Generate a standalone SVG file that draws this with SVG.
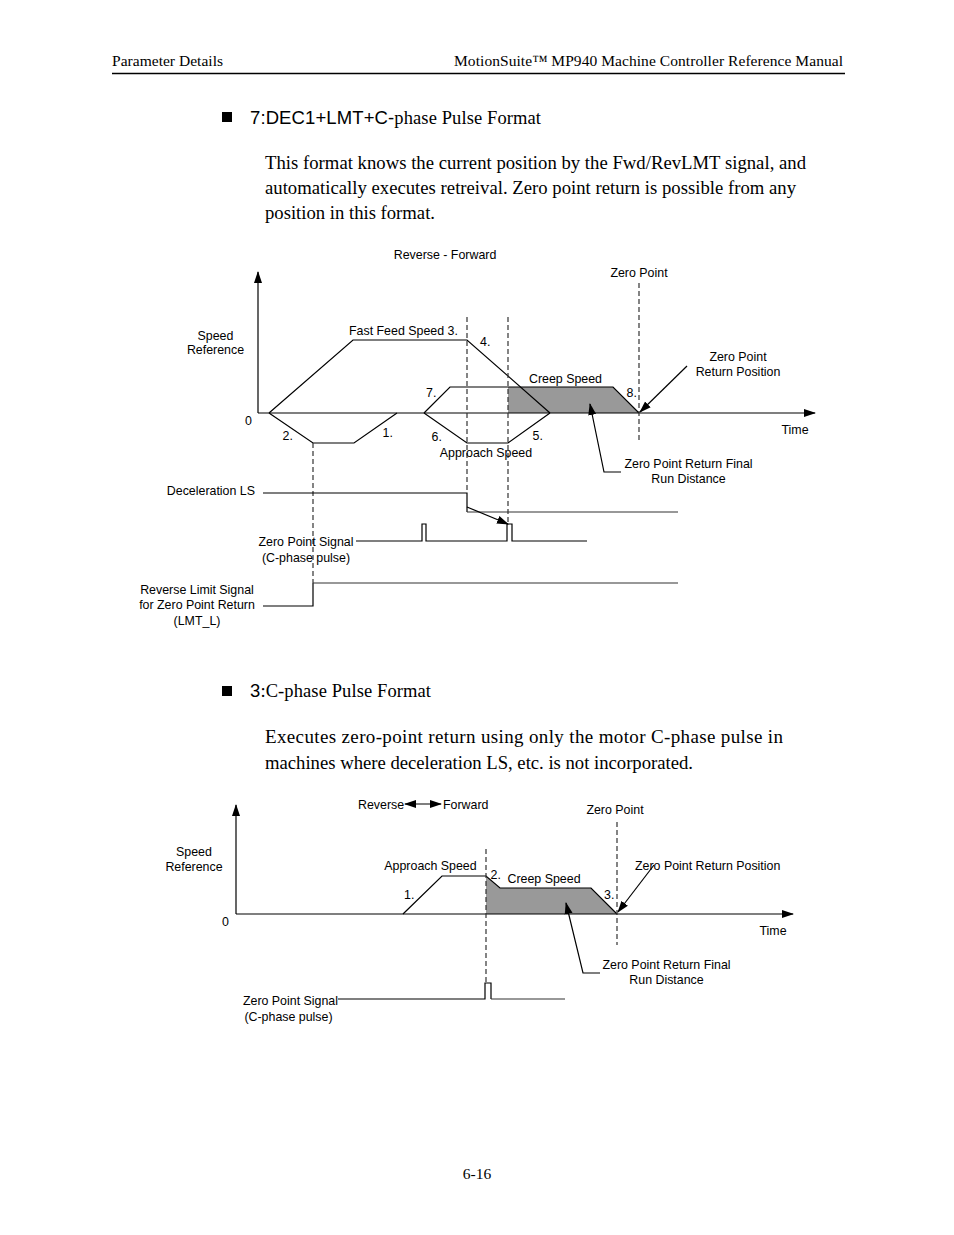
<svg xmlns="http://www.w3.org/2000/svg" width="954" height="1235" viewBox="0 0 954 1235">
<style>
.serif{font-family:"Liberation Serif","Times New Roman",serif;fill:#000}
.sans{font-family:"Liberation Sans",Arial,sans-serif;fill:#000}
.lbl{font-family:"Liberation Sans",Arial,sans-serif;font-size:12.4px;fill:#000}
.mid{text-anchor:middle}
.end{text-anchor:end}
.ln{fill:none;stroke:#000;stroke-width:1.2}
.gl{fill:none;stroke:#333;stroke-width:1.2}
.dash{fill:none;stroke:#333;stroke-width:1.2;stroke-dasharray:5,3}
.fill{fill:#999;stroke:none}
.arr{fill:none;stroke:#000;stroke-width:1.2;marker-end:url(#ah)}
</style>
<defs>
<marker id="ah" markerUnits="userSpaceOnUse" markerWidth="12" markerHeight="10" refX="11" refY="4" orient="auto-start-reverse" viewBox="0 0 12 8">
<path d="M0,0 L12,4 L0,8 z" fill="#000"/>
</marker>
</defs>
<rect width="954" height="1235" fill="#fff"/>

<g id="header">
<text class="serif" x="112" y="66" font-size="15.5" textLength="111">Parameter Details</text>
<text class="serif" x="454" y="66" font-size="15.5" textLength="389">MotionSuite™ MP940 Machine Controller Reference Manual</text>
<line x1="112" y1="73.5" x2="845" y2="73.5" stroke="#000" stroke-width="1.3"/>
</g>

<g id="section1">
<rect x="222" y="112" width="10" height="10" fill="#000"/>
<text x="250" y="124" font-size="18.5" textLength="291"><tspan class="sans">7:DEC1+LMT+C-</tspan><tspan class="serif">phase Pulse Format</tspan></text>
<text class="serif" x="265" y="169" font-size="18.7" textLength="541">This format knows the current position by the Fwd/RevLMT signal, and</text>
<text class="serif" x="265" y="194" font-size="18.7" textLength="531">automatically executes retreival. Zero point return is possible from any</text>
<text class="serif" x="265" y="219" font-size="18.7" textLength="170">position in this format.</text>
</g>

<g id="chart1">
<polygon class="fill" points="508,387 613,387 639,413 508,413"/>
<line class="arr" x1="258" y1="413" x2="258" y2="272"/>
<line class="arr" x1="258" y1="413" x2="815" y2="413"/>
<path class="ln" d="M269,413 L353,340 L467,340 L550,413"/>
<path class="ln" d="M269,413 L313,443 L354,443 L397,413"/>
<path class="ln" d="M424,413 L450,387 L613,387 L639,413"/>
<path class="ln" d="M424,413 L467,443 L508,443 L550,413"/>
<line class="dash" x1="313" y1="443" x2="313" y2="583"/>
<line class="dash" x1="467" y1="317" x2="467" y2="493"/>
<line class="dash" x1="508" y1="317" x2="508" y2="524"/>
<line class="dash" x1="639" y1="283" x2="639" y2="442"/>
<text class="lbl mid" x="445" y="258.5">Reverse - Forward</text>
<text class="lbl mid" x="639" y="277">Zero Point</text>
<text class="lbl mid" x="215.5" y="339.5">Speed</text>
<text class="lbl mid" x="215.5" y="354">Reference</text>
<text class="lbl" x="349" y="335">Fast Feed Speed 3.</text>
<text class="lbl" x="480" y="346">4.</text>
<text class="lbl" x="426" y="397">7.</text>
<text class="lbl mid" x="565.5" y="382.5">Creep Speed</text>
<text class="lbl" x="626.5" y="397">8.</text>
<text class="lbl mid" x="738" y="361">Zero Point</text>
<text class="lbl mid" x="738" y="375.5">Return Position</text>
<text class="lbl" x="245" y="425">0</text>
<text class="lbl" x="781.5" y="433.5">Time</text>
<text class="lbl" x="282.5" y="439.5">2.</text>
<text class="lbl" x="382.5" y="437">1.</text>
<text class="lbl" x="431.5" y="441">6.</text>
<text class="lbl" x="532.5" y="439.5">5.</text>
<text class="lbl mid" x="486" y="456.5">Approach Speed</text>
<text class="lbl mid" x="688.5" y="467.5">Zero Point Return Final</text>
<text class="lbl mid" x="688.5" y="482.5">Run Distance</text>
</g>

<g id="signals1">
<path class="ln" d="M263,493 H467 V512"/>
<path class="gl" d="M467,512 H678"/>
<path class="ln" d="M356,541 H422 V524 H426 V541 H507 V524 H512 V541 H587"/>
<path class="ln" d="M263,606 H313 V583"/>
<path class="gl" d="M313,583 H678"/>
<text class="lbl end" x="255" y="495">Deceleration LS</text>
<text class="lbl mid" x="306" y="546">Zero Point Signal</text>
<text class="lbl mid" x="306" y="562">(C-phase pulse)</text>
<text class="lbl mid" x="197" y="593.5">Reverse Limit Signal</text>
<text class="lbl mid" x="197" y="609">for Zero Point Return</text>
<text class="lbl mid" x="197" y="625">(LMT_L)</text>
</g>

<g id="section2">
<rect x="222" y="686" width="10" height="10" fill="#000"/>
<text x="250" y="697" font-size="18.5" textLength="181"><tspan class="sans">3</tspan><tspan class="serif">:C-phase Pulse Format</tspan></text>
<text class="serif" x="265" y="743" font-size="19" textLength="518">Executes zero-point return using only the motor C-phase pulse in</text>
<text class="serif" x="265" y="769" font-size="18.7" textLength="428">machines where deceleration LS, etc. is not incorporated.</text>
</g>

<g id="chart2">
<polygon class="fill" points="486,876 500,888 591,888 617,914 486,914"/>
<line class="arr" x1="236" y1="914" x2="236" y2="805"/>
<line class="arr" x1="236" y1="914" x2="793" y2="914"/>
<path class="ln" d="M403,914 L442,876 L486,876 L500,888 L591,888 L617,914"/>
<line class="dash" x1="486" y1="849" x2="486" y2="983"/>
<line class="dash" x1="617" y1="822" x2="617" y2="945"/>
<text class="lbl" x="358" y="808.5">Reverse</text>
<text class="lbl" x="443" y="808.5">Forward</text>
<text class="lbl mid" x="615" y="814">Zero Point</text>
<text class="lbl mid" x="194" y="855.5">Speed</text>
<text class="lbl mid" x="194" y="870.5">Reference</text>
<text class="lbl mid" x="430.5" y="870">Approach Speed</text>
<text class="lbl" x="490.5" y="878.5">2.</text>
<text class="lbl" x="507.5" y="882.5">Creep Speed</text>
<text class="lbl" x="635" y="869.5">Zero Point Return Position</text>
<text class="lbl" x="404" y="898.5">1.</text>
<text class="lbl" x="604" y="899">3.</text>
<text class="lbl" x="222" y="926">0</text>
<text class="lbl" x="759.5" y="934.5">Time</text>
<text class="lbl mid" x="666.5" y="968.5">Zero Point Return Final</text>
<text class="lbl mid" x="666.5" y="983.5">Run Distance</text>
</g>

<g id="signals2">
<path class="ln" d="M338,999 H485 V983 H491 V999"/>
<path class="gl" d="M491,999 H565"/>
<text class="lbl end" x="338" y="1005">Zero Point Signal</text>
<text class="lbl mid" x="288.5" y="1020.5">(C-phase pulse)</text>
</g>

<g id="connectors">
<line class="arr" x1="467" y1="507" x2="508" y2="524"/>
<line class="arr" x1="687" y1="366" x2="640" y2="412"/>
<path class="arr" d="M621,472 H604 L590,404"/>
<line class="arr" x1="654" y1="865" x2="618" y2="912"/>
<path class="arr" d="M600,973 H583 L566,903"/>
<line x1="405" y1="804" x2="441" y2="804" stroke="#000" stroke-width="1.2" marker-start="url(#ah)" marker-end="url(#ah)"/>
</g>

<g id="footer">
<text class="serif mid" x="477" y="1179" font-size="15.5">6-16</text>
</g>
</svg>
